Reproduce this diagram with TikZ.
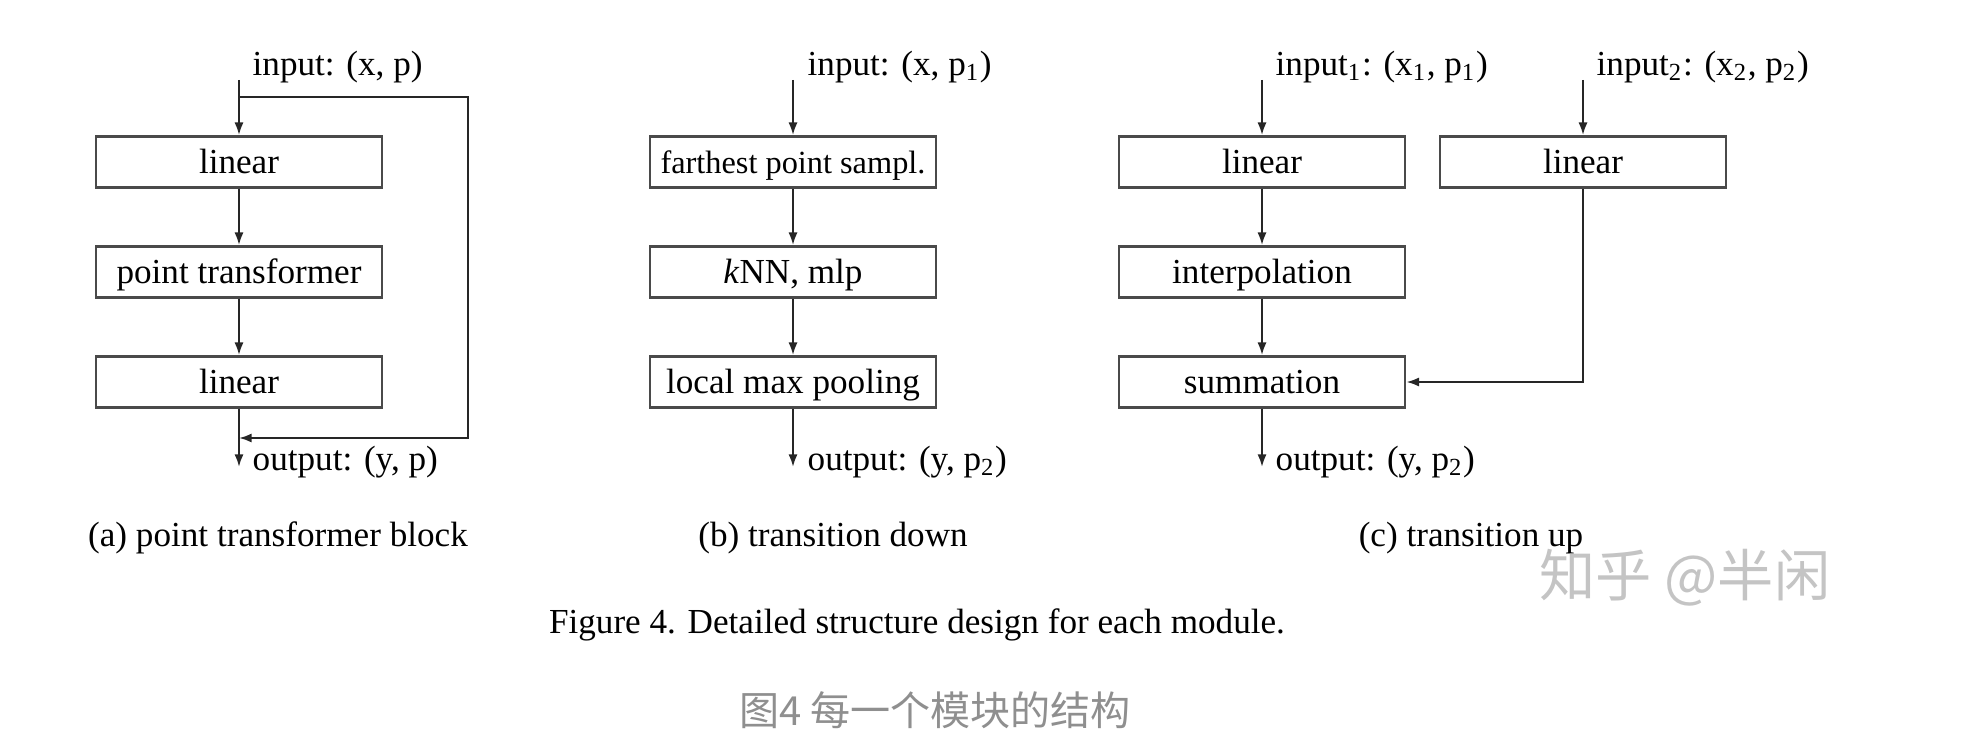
\documentclass[tikz,border=0pt]{standalone}
\usepackage{fontspec}
\setmainfont{Liberation Serif}
\newfontfamily\cjk{Noto Sans CJK SC}
\usepackage[HTML]{xcolor}
\usepackage{tikz}
\usetikzlibrary{positioning, arrows, arrows.meta}

\definecolor{boxline}{HTML}{4A4A4A}
\definecolor{capgray}{HTML}{8F8F8F}
\definecolor{markgray}{HTML}{C4C4C4}

\begin{document}
\begin{tikzpicture}[x=0.1mm, y=-0.1mm,
  block/.style={draw=boxline, line width=0.8pt, minimum width=28.6mm, minimum height=5.1mm, inner sep=0pt, text height=0.8em, text depth=0.12em, font=\fontsize{10}{12}\selectfont},
  arr/.style={-{Latex[length=3.6pt,width=2.6pt]}, line width=0.6pt, black!85},
  lbl/.style={anchor=west, inner sep=0pt, font=\fontsize{10}{12}\selectfont},
  captext/.style={inner sep=0pt, font=\fontsize{10}{12}\selectfont}]
\useasboundingbox (0,0) rectangle (1967,750);

% (a) point transformer block
\coordinate (a-in) at (239,80);
\coordinate (a-split) at (239,97);
\node[lbl] (a-inlbl) at (252,67) {input: (x, p)};
\node[block] (a1) at (239,162) {linear};
\node[block] (a2) at (239,272) {point transformer};
\node[block] (a3) at (239,382) {linear};
\coordinate (a-skip) at (468,438);
\coordinate (a-join) at (239,438);
\coordinate (a-out) at (239,467);
\node[lbl] (a-outlbl) at (252,462) {output: (y, p)};
\node[captext] (a-cap) at (278,538) {(a) point transformer block};

\draw[arr] (a-in) -- (a1);
\draw[arr] (a1) -- (a2);
\draw[arr] (a2) -- (a3);
\draw[arr] (a3) -- (a-out);
\draw[arr] (a-split) -| (a-skip) -- (a-join);

% (b) transition down
\coordinate (b-in) at (793,80);
\node[lbl] (b-inlbl) at (807,67) {input: (x, p\textsubscript{1})};
\node[block, font=\fontsize{9.2}{11}\selectfont] (b1) at (793,162) {farthest point sampl.};
\node[block] (b2) at (793,272) {\textit{k}NN, mlp};
\node[block] (b3) at (793,382) {local max pooling};
\coordinate (b-out) at (793,467);
\node[lbl] (b-outlbl) at (807,462) {output: (y, p\textsubscript{2})};
\node[captext] (b-cap) at (833,538) {(b) transition down};

\draw[arr] (b-in) -- (b1);
\draw[arr] (b1) -- (b2);
\draw[arr] (b2) -- (b3);
\draw[arr] (b3) -- (b-out);

% (c) transition up
\coordinate (c-in1) at (1262,80);
\coordinate (c-in2) at (1583,80);
\node[lbl] (c-inlbl1) at (1275,67) {input\textsubscript{1}: (x\textsubscript{1}, p\textsubscript{1})};
\node[lbl] (c-inlbl2) at (1596,67) {input\textsubscript{2}: (x\textsubscript{2}, p\textsubscript{2})};
\node[block] (c1) at (1262,162) {linear};
\node[block] (c1r) at (1583,162) {linear};
\node[block] (c2) at (1262,272) {interpolation};
\node[block] (c3) at (1262,382) {summation};
\coordinate (c-out) at (1262,467);
\node[lbl] (c-outlbl) at (1275,462) {output: (y, p\textsubscript{2})};
\node[captext] (c-cap) at (1471,538) {(c) transition up};

\draw[arr] (c-in1) -- (c1);
\draw[arr] (c-in2) -- (c1r);
\draw[arr] (c1) -- (c2);
\draw[arr] (c2) -- (c3);
\draw[arr] (c1r) |- (c3);
\draw[arr] (c3) -- (c-out);

% captions
\node[captext] (fig-cap) at (917,625) {Figure 4. Detailed structure design for each module.};
\node[inner sep=0pt, text=capgray, font=\cjk\fontsize{11.4}{13}\selectfont] (zh-cap) at (935,710) {图4 每一个模块的结构};
\node[inner sep=0pt, text=markgray, font=\cjk\fontsize{16}{18}\selectfont] (mark) at (1685,578) {知乎 @半闲};
\end{tikzpicture}
\end{document}
